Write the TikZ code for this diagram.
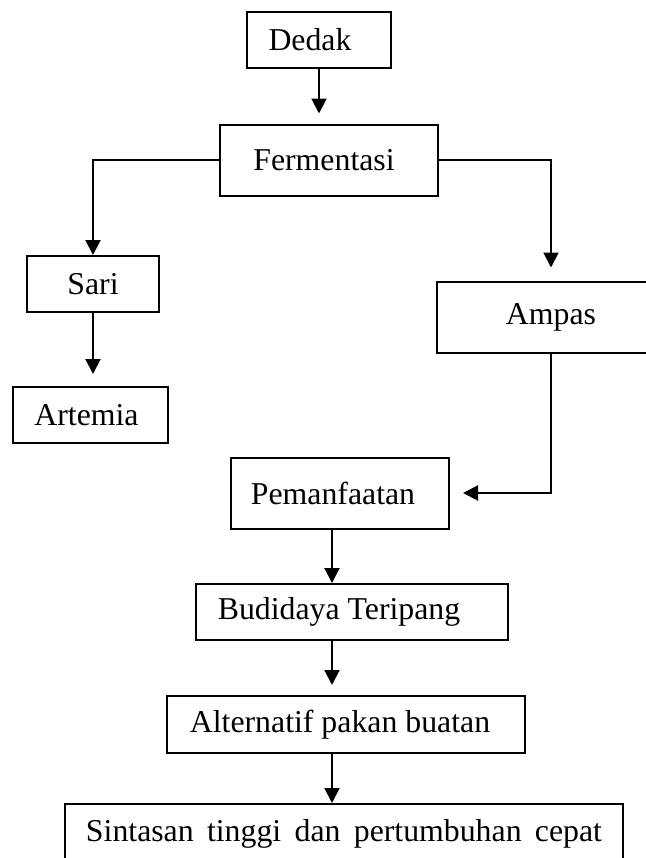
\documentclass[tikz,border=0pt]{standalone}
\usepackage{fontspec}
\setmainfont{Liberation Serif}
\usetikzlibrary{arrows.meta}

\begin{document}
\begin{tikzpicture}[x=0.5bp, y=-0.5bp]
        \tikzstyle{every node} = [rectangle, draw, line width=1bp, inner sep=0pt, font=\fontsize{15.9bp}{19bp}\selectfont]
        \tikzstyle{panah} = [line width=1bp, -{Triangle[width=7.5bp, length=7.5bp]}]
        \useasboundingbox (0,0) rectangle (646,858);
        \clip (0,0) rectangle (646,858);
        \node[minimum width=72bp, minimum height=28bp] (dedak) at (319,40) {Dedak\hspace*{9bp}};
        \node[minimum width=109bp, minimum height=35.5bp] (ferm) at (329,160) {Fermentasi\hspace*{5bp}};
        \node[minimum width=66bp, minimum height=28bp] (sari) at (93,284) {Sari};
        \node[minimum width=77.5bp, minimum height=28bp] (artemia) at (90.5,415) {Artemia\hspace*{4bp}};
        \node[minimum width=114bp, minimum height=35.5bp] (ampas) at (551,317) {Ampas};
        \node[minimum width=109bp, minimum height=35.5bp] (pem) at (340,493) {Pemanfaatan\hspace*{7bp}};
        \node[minimum width=156bp, minimum height=28bp] (bud) at (352,612) {Budidaya Teripang\hspace*{13bp}};
        \node[minimum width=179bp, minimum height=28.5bp] (alt) at (346,724.5) {Alternatif pakan buatan\hspace*{6bp}};
        \node[minimum width=279bp, minimum height=30bp] (sin) at (344,834) {\makebox[258bp][s]{Sintasan tinggi dan pertumbuhan cepat}};
        \coordinate (spine) at (332,0);
        \foreach \x/\from/\to/\gap in {dedak/dedak/ferm/5bp, sari/sari/artemia/6bp, spine/pem/bud/0bp, spine/bud/alt/5bp, spine/alt/sin/0bp}
            \draw[panah, shorten >=\gap] (\x |- \from.south) -- (\x |- \to.north);
        \draw[panah] (ferm.west) -| (sari.north);
        \draw[panah, shorten >=6.5bp] (ferm.east) -| (ampas.north);
        \draw[panah, shorten >=6.5bp] (ampas.south) |- (pem.east);
\end{tikzpicture}
\end{document}
